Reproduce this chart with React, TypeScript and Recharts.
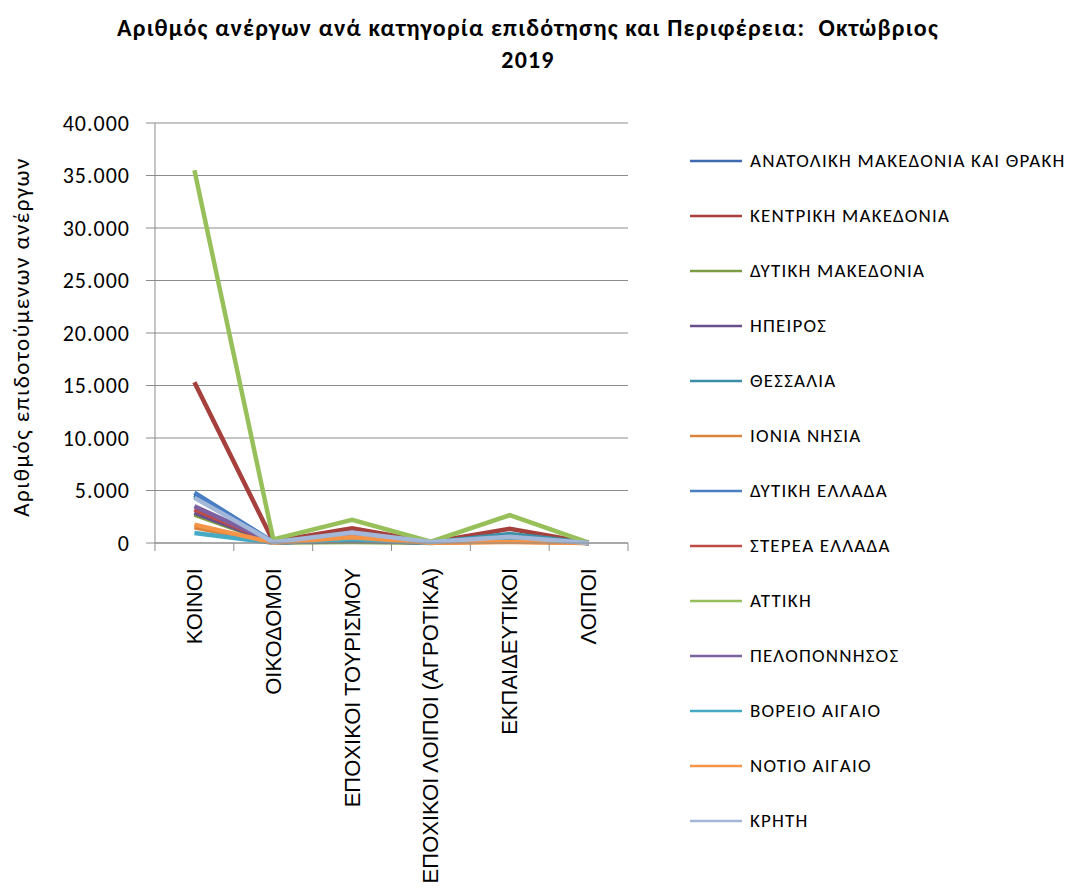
import { LineChart, Line, XAxis, YAxis, CartesianGrid, Legend, Label } from "recharts";

const categories = [
  "ΚΟΙΝΟΙ",
  "ΟΙΚΟΔΟΜΟΙ",
  "ΕΠΟΧΙΚΟΙ ΤΟΥΡΙΣΜΟΥ",
  "ΕΠΟΧΙΚΟΙ ΛΟΙΠΟΙ (ΑΓΡΟΤΙΚΑ)",
  "ΕΚΠΑΙΔΕΥΤΙΚΟΙ",
  "ΛΟΙΠΟΙ",
];

const regions = [
  "ΑΝΑΤΟΛΙΚΗ ΜΑΚΕΔΟΝΙΑ ΚΑΙ ΘΡΑΚΗ",
  "ΚΕΝΤΡΙΚΗ ΜΑΚΕΔΟΝΙΑ",
  "ΔΥΤΙΚΗ ΜΑΚΕΔΟΝΙΑ",
  "ΗΠΕΙΡΟΣ",
  "ΘΕΣΣΑΛΙΑ",
  "ΙΟΝΙΑ ΝΗΣΙΑ",
  "ΔΥΤΙΚΗ ΕΛΛΑΔΑ",
  "ΣΤΕΡΕΑ ΕΛΛΑΔΑ",
  "ΑΤΤΙΚΗ",
  "ΠΕΛΟΠΟΝΝΗΣΟΣ",
  "ΒΟΡΕΙΟ ΑΙΓΑΙΟ",
  "ΝΟΤΙΟ ΑΙΓΑΙΟ",
  "ΚΡΗΤΗ",
];

// one row per region, one value per category
const anatolikiMakedonia = [4600, 80, 300, 40, 450, 10];
const kentrikiMakedonia = [15300, 150, 1400, 80, 1350, 20];
const dytikiMakedonia = [2700, 50, 100, 20, 250, 5];
const ipeiros = [2900, 50, 250, 30, 300, 5];
const thessalia = [4400, 80, 250, 60, 850, 10];
const ioniaNisia = [1500, 40, 600, 20, 150, 5];
const dytikiEllada = [4800, 90, 750, 50, 550, 10];
const stereaEllada = [3200, 70, 300, 40, 450, 10];
const attiki = [35500, 350, 2200, 120, 2650, 30];
const peloponnisos = [3500, 60, 700, 60, 400, 10];
const voreioAigaio = [950, 20, 350, 10, 400, 5];
const notioAigaio = [1750, 30, 550, 20, 100, 5];
const kriti = [4300, 80, 1000, 100, 600, 10];

const yTicks = [0, 5000, 10000, 15000, 20000, 25000, 30000, 35000, 40000];

const seriesValues = [
  anatolikiMakedonia, kentrikiMakedonia, dytikiMakedonia, ipeiros, thessalia, ioniaNisia,
  dytikiEllada, stereaEllada, attiki, peloponnisos, voreioAigaio, notioAigaio, kriti,
];

const colors = [
  "#3F6CAF", "#A5403D", "#7E9C43", "#68508C", "#3A8FA6", "#D9823D",
  "#4A7EC4", "#BE4B48", "#98C05A", "#7D60A0", "#46AAC5", "#F59446", "#A3B8D9",
];

const data = categories.map((cat, i) => {
  const row: Record<string, string | number> = { cat };
  regions.forEach((r, j) => {
    row[r] = seriesValues[j][i];
  });
  return row;
});

const W = 1076;
const H = 888;
const PLOT_LEFT = 155;
const PLOT_RIGHT = 628;
const PLOT_TOP = 123;
const AXIS_Y = 543;
const X_AXIS_H = 330;
const Y_AXIS_W = 145;
const BAND = (PLOT_RIGHT - PLOT_LEFT) / categories.length;

const calibri = "Carlito, Lato, 'Open Sans', sans-serif";
const gridColor = "#8c8c8c";

const fmt = (v: number) => String(v).replace(/\B(?=(\d{3})+(?!\d))/g, ".");

function CategoryTick(props: any) {
  const { x, payload, index } = props;
  const ty = AXIS_Y + 25;
  return (
    <g>
      <line x1={x - BAND / 2} x2={x - BAND / 2} y1={AXIS_Y} y2={AXIS_Y + 8} stroke={gridColor} />
      {index === categories.length - 1 && (
        <line x1={x + BAND / 2} x2={x + BAND / 2} y1={AXIS_Y} y2={AXIS_Y + 8} stroke={gridColor} />
      )}
      <text
        x={x}
        y={ty}
        transform={`rotate(-90 ${x} ${ty})`}
        textAnchor="end"
        dominantBaseline="central"
        fontFamily="'Liberation Sans', Arial, sans-serif"
        fontSize={22}
        fill="#000"
      >
        {payload.value}
      </text>
    </g>
  );
}

function RegionLegend() {
  return (
    <div style={{ fontFamily: calibri, fontSize: 19, letterSpacing: 1.2, color: "#000" }}>
      {regions.map((r, i) => (
        <div key={r} style={{ display: "flex", alignItems: "center", height: 55 }}>
          <svg width={52} height={6} style={{ marginRight: 8 }}>
            <line x1={0} x2={52} y1={3} y2={3} stroke={colors[i]} strokeWidth={2.5} />
          </svg>
          <span style={{ whiteSpace: "nowrap" }}>{r}</span>
        </div>
      ))}
    </div>
  );
}

export default function App() {
  return (
    <div style={{ position: "absolute", left: 0, top: 0, width: W, height: H, background: "#fff" }}>
      <div
        style={{
          position: "absolute",
          left: 0,
          top: 12,
          width: 1056,
          textAlign: "center",
          fontFamily: calibri,
          fontWeight: "bold",
          fontSize: 24,
          letterSpacing: 1.2,
          lineHeight: "32px",
          color: "#000",
        }}
      >
        Αριθμός ανέργων ανά κατηγορία επιδότησης και Περιφέρεια:&nbsp; Οκτώβριος
        <br />
        2019
      </div>
      <LineChart
        width={W}
        height={H}
        data={data}
        margin={{
          top: PLOT_TOP,
          right: W - PLOT_RIGHT,
          bottom: H - AXIS_Y - X_AXIS_H,
          left: PLOT_LEFT - Y_AXIS_W,
        }}
      >
        <CartesianGrid vertical={false} stroke={gridColor} />
        <XAxis
          dataKey="cat"
          height={X_AXIS_H}
          interval={0}
          padding={{ left: BAND / 2, right: BAND / 2 }}
          tickLine={false}
          axisLine={{ stroke: gridColor }}
          tick={<CategoryTick />}
        />
        <YAxis
          width={Y_AXIS_W}
          domain={[0, 40000]}
          ticks={yTicks}
          tickFormatter={fmt}
          tickSize={9}
          tickMargin={16}
          tickLine={{ stroke: gridColor }}
          axisLine={{ stroke: gridColor }}
          tick={{ fill: "#000", fontSize: 22, fontFamily: calibri, letterSpacing: 1 }}
        >
          <Label
            content={({ viewBox }: any) => {
              const cx = viewBox.x + 11;
              const cy = viewBox.y + viewBox.height / 2 + 4;
              return (
                <text
                  x={cx}
                  y={cy}
                  transform={`rotate(-90 ${cx} ${cy})`}
                  textAnchor="middle"
                  dominantBaseline="central"
                  fontFamily={calibri}
                  fontSize={23}
                  letterSpacing={1.5}
                  fill="#000"
                >
                  Αριθμός επιδοτούμενων ανέργων
                </text>
              );
            }}
          />
        </YAxis>
        <Legend
          layout="vertical"
          align="center"
          verticalAlign="middle"
          content={<RegionLegend />}
          wrapperStyle={{ left: 690, top: 133, width: 386, height: 715 }}
        />
        {regions.map((r, i) => (
          <Line
            key={r}
            dataKey={r}
            stroke={colors[i]}
            strokeWidth={4.5}
            dot={false}
            activeDot={false}
            isAnimationActive={false}
          />
        ))}
      </LineChart>
    </div>
  );
}
